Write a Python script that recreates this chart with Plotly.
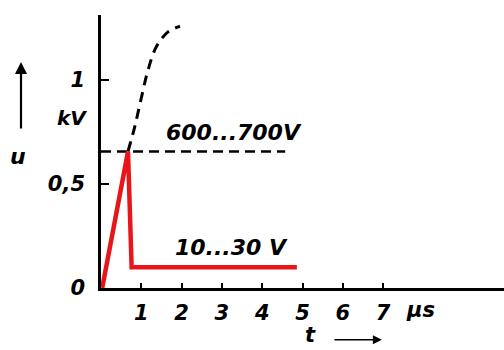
import plotly.graph_objects as go

# data (t in µs, u in kV)
pulse_t = [0.03, 0.67, 0.76, 4.86]
pulse_u = [0.0, 0.655, 0.10, 0.10]
rise_t = [0.67, 0.84, 1.01, 1.17, 1.38, 1.67, 1.96]
rise_u = [0.655, 0.776, 0.92, 1.048, 1.16, 1.23, 1.256]
level_t = [0.0, 4.57]
level_u = [0.655, 0.655]
x_ticks = [1, 2, 3, 4, 5, 6, 7]
x_ticklabels = ["1", "2", "3", "4", "5", "6", "7"]
y_ticks = [0, 0.5, 1]
y_ticklabels = ["0", "0,5", "1"]

FONT = "DejaVu Sans"


def f(size):
    return dict(family=FONT, size=size, color="black", style="italic", weight="bold")


fig = go.Figure()
fig.add_trace(go.Scatter(x=level_t, y=level_u, mode="lines",
                         line=dict(color="black", width=2.6, dash="10px,6px"),
                         hoverinfo="skip"))
fig.add_trace(go.Scatter(x=rise_t, y=rise_u, mode="lines",
                         line=dict(color="black", width=3, dash="10px,7px", shape="spline"),
                         hoverinfo="skip"))
fig.add_trace(go.Scatter(x=pulse_t, y=pulse_u, mode="lines",
                         line=dict(color="#e8161b", width=4.5),
                         hoverinfo="skip"))

C = dict(xanchor="center", yanchor="middle", showarrow=False)
annotations = [
    dict(x=3.30, y=0.745, xref="x", yref="y", text="600...700V", font=f(22), **C),
    dict(x=3.23, y=0.192, xref="x", yref="y", text="10...30 V", font=f(22), **C),
    dict(x=-0.072, y=0.623, xref="paper", yref="paper", text="kV", font=f(20), **C),
    dict(x=-0.206, y=0.480, xref="paper", yref="paper", text="u", font=f(22), **C),
    dict(x=0.792, y=-0.081, xref="paper", yref="paper", text="µs", font=f(21), **C),
    dict(x=0.519, y=-0.172, xref="paper", yref="paper", text="t", font=f(21), **C),
    # u arrow
    dict(x=-0.1985, y=0.828, ax=0, ay=68, xref="paper", yref="paper",
         axref="pixel", ayref="pixel",
         text="", showarrow=True, arrowhead=2, arrowsize=1.1, arrowwidth=2.2, arrowcolor="black"),
    # t arrow
    dict(x=0.697, y=-0.19, ax=-49, ay=0, xref="paper", yref="paper",
         axref="pixel", ayref="pixel",
         text="", showarrow=True, arrowhead=2, arrowsize=1.2, arrowwidth=1.5, arrowcolor="black"),
]

fig.update_layout(
    width=504, height=350,
    margin=dict(l=101, r=0, t=15, b=62),
    paper_bgcolor="white", plot_bgcolor="white",
    showlegend=False,
    font=f(21),
    annotations=annotations,
    xaxis=dict(range=[0, 10], showgrid=False, zeroline=False, showline=True,
               linecolor="black", linewidth=2.5,
               tickvals=x_ticks, ticktext=x_ticklabels,
               ticks="inside", ticklen=5, tickwidth=2, tickcolor="black",
               ticklabelstandoff=4, tickfont=f(21)),
    yaxis=dict(range=[0, 1.31], showgrid=False, zeroline=False, showline=True,
               linecolor="black", linewidth=2.5,
               tickvals=y_ticks, ticktext=y_ticklabels,
               ticks="inside", ticklen=8, tickwidth=2, tickcolor="black",
               ticklabelstandoff=9, tickfont=f(21)),
)

fig.write_html("out.html")
